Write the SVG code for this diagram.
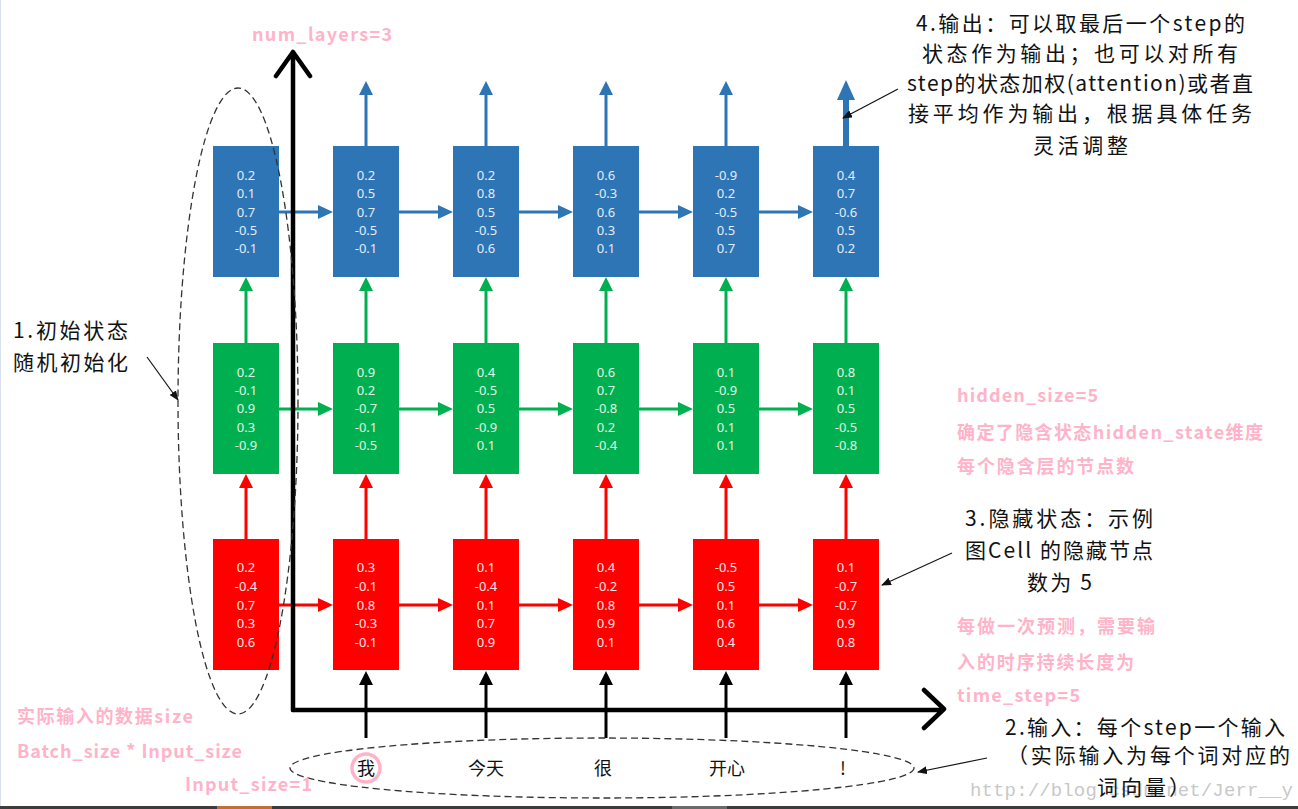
<svg xmlns="http://www.w3.org/2000/svg" width="1298" height="809" viewBox="0 0 1298 809">
<style>
.bl{fill:#2e75b6}.gr{fill:#00b050}.rd{fill:#ff0000}
.bt{font-family:"Noto Sans","Open Sans",sans-serif;font-size:13px;text-anchor:middle}
.bt.b{fill:#e3ecf7}.bt.g{fill:#e0f5e6}.bt.r{fill:#ffe6e6}
.ann{font-family:"Noto Sans CJK SC","Noto Sans",sans-serif;font-size:21px;fill:#111}
.pk{font-family:"Noto Sans CJK SC","Noto Sans",sans-serif;font-size:18px;font-weight:bold;fill:#ffb3c9}
.wd{font-family:"Noto Sans CJK SC",sans-serif;font-size:18px;fill:#111;text-anchor:middle}
.sb{stroke:#2e75b6;stroke-width:3;fill:none}.sg{stroke:#00b050;stroke-width:3;fill:none}
.sr{stroke:#ff0000;stroke-width:3;fill:none}.sk{stroke:#000;stroke-width:3;fill:none}
.axis{stroke:#000;stroke-width:4.5;fill:none;stroke-linecap:round;stroke-linejoin:round}
.dash{stroke:#333;stroke-width:1.3;fill:none;stroke-dasharray:7 4}
.al{stroke:#111;stroke-width:1.2;fill:none}
</style>
<defs>
<marker id="ah" markerWidth="10" markerHeight="8" refX="9" refY="4" orient="auto" markerUnits="userSpaceOnUse"><path d="M0,0 L10,4 L0,8 z" fill="#111"/></marker>
</defs>
<rect width="1298" height="809" fill="#fff"/>
<line x1="0.5" y1="0" x2="0.5" y2="806" stroke="#d8e2ee" stroke-width="1"/>
<text x="970" y="796" font-family="Liberation Mono,monospace" font-size="19" fill="#c8c8c8" textLength="323" lengthAdjust="spacing">http://blog.csdn.net/Jerr__y</text>

<g id="connectors">
<path class="sb" d="M279,212H320M399,212H440M519,212H560M639,212H680M759,212H800"/>
<path class="bl" d="M333,212L318,205L318,219zM453,212L438,205L438,219zM573,212L558,205L558,219zM693,212L678,205L678,219zM813,212L798,205L798,219z"/>
<path class="sg" d="M279,409H320M399,409H440M519,409H560M639,409H680M759,409H800"/>
<path class="gr" d="M333,409L318,402L318,416zM453,409L438,402L438,416zM573,409L558,402L558,416zM693,409L678,402L678,416zM813,409L798,402L798,416z"/>
<path class="sr" d="M279,605H320M399,605H440M519,605H560M639,605H680M759,605H800"/>
<path class="rd" d="M333,605L318,598L318,612zM453,605L438,598L438,612zM573,605L558,598L558,612zM693,605L678,598L678,612zM813,605L798,598L798,612z"/>
<path class="sg" d="M246,343V290M366,343V290M486,343V290M606,343V290M726,343V290M846,343V290"/>
<path class="gr" d="M246,277L239,291L253,291zM366,277L359,291L373,291zM486,277L479,291L493,291zM606,277L599,291L613,291zM726,277L719,291L733,291zM846,277L839,291L853,291z"/>
<path class="sr" d="M246,539V487M366,539V487M486,539V487M606,539V487M726,539V487M846,539V487"/>
<path class="rd" d="M246,474L239,488L253,488zM366,474L359,488L373,488zM486,474L479,488L493,488zM606,474L599,488L613,488zM726,474L719,488L733,488zM846,474L839,488L853,488z"/>
<path class="sb" d="M366,146V94M486,146V94M606,146V94M726,146V94"/>
<path class="bl" d="M366,81L359,95L373,95zM486,81L479,95L493,95zM606,81L599,95L613,95zM726,81L719,95L733,95z"/>
<path d="M846,146V98" stroke="#2e75b6" stroke-width="6" fill="none"/>
<path class="bl" d="M846,80L837,100L855,100z"/>
<path class="sk" d="M366,738V684M486,738V684M606,738V684M726,738V684M846,738V684"/>
<path d="M366,671L359,685L373,685zM486,671L479,685L493,685zM606,671L599,685L613,685zM726,671L719,685L733,685zM846,671L839,685L853,685z" fill="#000"/>
</g>

<g id="blue-layer">
<g id="b1"><rect class="bl" x="213" y="146" width="66" height="131"/><text class="bt b"><tspan x="246" y="179.5">0.2</tspan><tspan x="246" y="197.5">0.1</tspan><tspan x="246" y="216.5">0.7</tspan><tspan x="246" y="234.5">-0.5</tspan><tspan x="246" y="252.5">-0.1</tspan></text></g>
<g id="b2"><rect class="bl" x="333" y="146" width="66" height="131"/><text class="bt b"><tspan x="366" y="179.5">0.2</tspan><tspan x="366" y="197.5">0.5</tspan><tspan x="366" y="216.5">0.7</tspan><tspan x="366" y="234.5">-0.5</tspan><tspan x="366" y="252.5">-0.1</tspan></text></g>
<g id="b3"><rect class="bl" x="453" y="146" width="66" height="131"/><text class="bt b"><tspan x="486" y="179.5">0.2</tspan><tspan x="486" y="197.5">0.8</tspan><tspan x="486" y="216.5">0.5</tspan><tspan x="486" y="234.5">-0.5</tspan><tspan x="486" y="252.5">0.6</tspan></text></g>
<g id="b4"><rect class="bl" x="573" y="146" width="66" height="131"/><text class="bt b"><tspan x="606" y="179.5">0.6</tspan><tspan x="606" y="197.5">-0.3</tspan><tspan x="606" y="216.5">0.6</tspan><tspan x="606" y="234.5">0.3</tspan><tspan x="606" y="252.5">0.1</tspan></text></g>
<g id="b5"><rect class="bl" x="693" y="146" width="66" height="131"/><text class="bt b"><tspan x="726" y="179.5">-0.9</tspan><tspan x="726" y="197.5">0.2</tspan><tspan x="726" y="216.5">-0.5</tspan><tspan x="726" y="234.5">0.5</tspan><tspan x="726" y="252.5">0.7</tspan></text></g>
<g id="b6"><rect class="bl" x="813" y="146" width="66" height="131"/><text class="bt b"><tspan x="846" y="179.5">0.4</tspan><tspan x="846" y="197.5">0.7</tspan><tspan x="846" y="216.5">-0.6</tspan><tspan x="846" y="234.5">0.5</tspan><tspan x="846" y="252.5">0.2</tspan></text></g>
</g>

<g id="green-layer">
<g id="g1"><rect class="gr" x="213" y="343" width="66" height="131"/><text class="bt g"><tspan x="246" y="376.5">0.2</tspan><tspan x="246" y="394.5">-0.1</tspan><tspan x="246" y="412.5">0.9</tspan><tspan x="246" y="431.5">0.3</tspan><tspan x="246" y="449.5">-0.9</tspan></text></g>
<g id="g2"><rect class="gr" x="333" y="343" width="66" height="131"/><text class="bt g"><tspan x="366" y="376.5">0.9</tspan><tspan x="366" y="394.5">0.2</tspan><tspan x="366" y="412.5">-0.7</tspan><tspan x="366" y="431.5">-0.1</tspan><tspan x="366" y="449.5">-0.5</tspan></text></g>
<g id="g3"><rect class="gr" x="453" y="343" width="66" height="131"/><text class="bt g"><tspan x="486" y="376.5">0.4</tspan><tspan x="486" y="394.5">-0.5</tspan><tspan x="486" y="412.5">0.5</tspan><tspan x="486" y="431.5">-0.9</tspan><tspan x="486" y="449.5">0.1</tspan></text></g>
<g id="g4"><rect class="gr" x="573" y="343" width="66" height="131"/><text class="bt g"><tspan x="606" y="376.5">0.6</tspan><tspan x="606" y="394.5">0.7</tspan><tspan x="606" y="412.5">-0.8</tspan><tspan x="606" y="431.5">0.2</tspan><tspan x="606" y="449.5">-0.4</tspan></text></g>
<g id="g5"><rect class="gr" x="693" y="343" width="66" height="131"/><text class="bt g"><tspan x="726" y="376.5">0.1</tspan><tspan x="726" y="394.5">-0.9</tspan><tspan x="726" y="412.5">0.5</tspan><tspan x="726" y="431.5">0.1</tspan><tspan x="726" y="449.5">0.1</tspan></text></g>
<g id="g6"><rect class="gr" x="813" y="343" width="66" height="131"/><text class="bt g"><tspan x="846" y="376.5">0.8</tspan><tspan x="846" y="394.5">0.1</tspan><tspan x="846" y="412.5">0.5</tspan><tspan x="846" y="431.5">-0.5</tspan><tspan x="846" y="449.5">-0.8</tspan></text></g>
</g>

<g id="red-layer">
<g id="r1"><rect class="rd" x="213" y="539" width="66" height="131"/><text class="bt r"><tspan x="246" y="571.5">0.2</tspan><tspan x="246" y="590.5">-0.4</tspan><tspan x="246" y="609.5">0.7</tspan><tspan x="246" y="627.5">0.3</tspan><tspan x="246" y="646.5">0.6</tspan></text></g>
<g id="r2"><rect class="rd" x="333" y="539" width="66" height="131"/><text class="bt r"><tspan x="366" y="571.5">0.3</tspan><tspan x="366" y="590.5">-0.1</tspan><tspan x="366" y="609.5">0.8</tspan><tspan x="366" y="627.5">-0.3</tspan><tspan x="366" y="646.5">-0.1</tspan></text></g>
<g id="r3"><rect class="rd" x="453" y="539" width="66" height="131"/><text class="bt r"><tspan x="486" y="571.5">0.1</tspan><tspan x="486" y="590.5">-0.4</tspan><tspan x="486" y="609.5">0.1</tspan><tspan x="486" y="627.5">0.7</tspan><tspan x="486" y="646.5">0.9</tspan></text></g>
<g id="r4"><rect class="rd" x="573" y="539" width="66" height="131"/><text class="bt r"><tspan x="606" y="571.5">0.4</tspan><tspan x="606" y="590.5">-0.2</tspan><tspan x="606" y="609.5">0.8</tspan><tspan x="606" y="627.5">0.9</tspan><tspan x="606" y="646.5">0.1</tspan></text></g>
<g id="r5"><rect class="rd" x="693" y="539" width="66" height="131"/><text class="bt r"><tspan x="726" y="571.5">-0.5</tspan><tspan x="726" y="590.5">0.5</tspan><tspan x="726" y="609.5">0.1</tspan><tspan x="726" y="627.5">0.6</tspan><tspan x="726" y="646.5">0.4</tspan></text></g>
<g id="r6"><rect class="rd" x="813" y="539" width="66" height="131"/><text class="bt r"><tspan x="846" y="571.5">0.1</tspan><tspan x="846" y="590.5">-0.7</tspan><tspan x="846" y="609.5">-0.7</tspan><tspan x="846" y="627.5">0.9</tspan><tspan x="846" y="646.5">0.8</tspan></text></g>
</g>

<g id="axes">
<path class="axis" d="M293,710V52M276,76L293,52L310,76"/>
<path class="axis" d="M293,710H943M924,690L944,709L924,728"/>
</g>

<g id="init-ellipse"><ellipse class="dash" cx="238" cy="401" rx="60" ry="313"/></g>
<g id="input-ellipse"><ellipse class="dash" cx="602" cy="768" rx="312" ry="30"/></g>

<g id="inputs">
<circle cx="366" cy="768" r="14" fill="none" stroke="#ffb3c9" stroke-width="3.5"/>
<text class="wd" x="366" y="775">我</text>
<text class="wd" x="486" y="775">今天</text>
<text class="wd" x="603" y="775">很</text>
<text class="wd" x="727" y="775">开心</text>
<text class="wd" x="843" y="775">!</text>
</g>

<g id="annotations">
<path class="al" d="M147,357L178,400" marker-end="url(#ah)"/>
<path class="al" d="M898,89L843,118" marker-end="url(#ah)"/>
<path class="al" d="M952,553L882,585" marker-end="url(#ah)"/>
<path class="al" d="M987,758L918,772" marker-end="url(#ah)"/>
<text class="ann" x="13" y="338" textLength="115" lengthAdjust="spacing">1.初始状态</text>
<text class="ann" x="13" y="370" textLength="115" lengthAdjust="spacing">随机初始化</text>
<text class="ann" x="916" y="31" textLength="329" lengthAdjust="spacing">4.输出：可以取最后一个step的</text>
<text class="ann" x="922" y="61" textLength="316" lengthAdjust="spacing">状态作为输出；也可以对所有</text>
<text class="ann" x="907" y="91" textLength="346" lengthAdjust="spacing">step的状态加权(attention)或者直</text>
<text class="ann" x="908" y="121" textLength="344" lengthAdjust="spacing">接平均作为输出，根据具体任务</text>
<text class="ann" x="1033" y="153" textLength="95" lengthAdjust="spacing">灵活调整</text>
<text class="ann" x="965" y="526" textLength="188" lengthAdjust="spacing">3.隐藏状态：示例</text>
<text class="ann" x="965" y="558" textLength="188" lengthAdjust="spacing">图Cell 的隐藏节点</text>
<text class="ann" x="1027" y="590" textLength="65" lengthAdjust="spacing">数为 5</text>
<text class="ann" x="1005" y="735" textLength="280" lengthAdjust="spacing">2.输入：每个step一个输入</text>
<text class="ann" x="1007" y="763" textLength="283" lengthAdjust="spacing">（实际输入为每个词对应的</text>
<text class="ann" x="1097" y="795" textLength="93" lengthAdjust="spacing">词向量）</text>
</g>

<g id="params">
<text class="pk" x="252" y="41" textLength="140" lengthAdjust="spacing">num_layers=3</text>
<text class="pk" x="957" y="402" textLength="141" lengthAdjust="spacing">hidden_size=5</text>
<text class="pk" x="957" y="439" textLength="306" lengthAdjust="spacing">确定了隐含状态hidden_state维度</text>
<text class="pk" x="957" y="473" textLength="177" lengthAdjust="spacing">每个隐含层的节点数</text>
<text class="pk" x="957" y="633" textLength="198" lengthAdjust="spacing">每做一次预测，需要输</text>
<text class="pk" x="957" y="669" textLength="177" lengthAdjust="spacing">入的时序持续长度为</text>
<text class="pk" x="957" y="702" textLength="123" lengthAdjust="spacing">time_step=5</text>
<text class="pk" x="17" y="723" textLength="176" lengthAdjust="spacing">实际输入的数据size</text>
<text class="pk" x="17" y="758" textLength="225" lengthAdjust="spacing">Batch_size * Input_size</text>
<text class="pk" x="185" y="791" textLength="127" lengthAdjust="spacing">Input_size=1</text>
</g>

<rect x="0" y="806" width="1298" height="3" fill="#3c3c3c"/>
<rect x="217" y="806" width="55" height="3" fill="#c07030"/>
<rect x="672" y="806" width="55" height="3" fill="#6a6a6a"/>
</svg>
